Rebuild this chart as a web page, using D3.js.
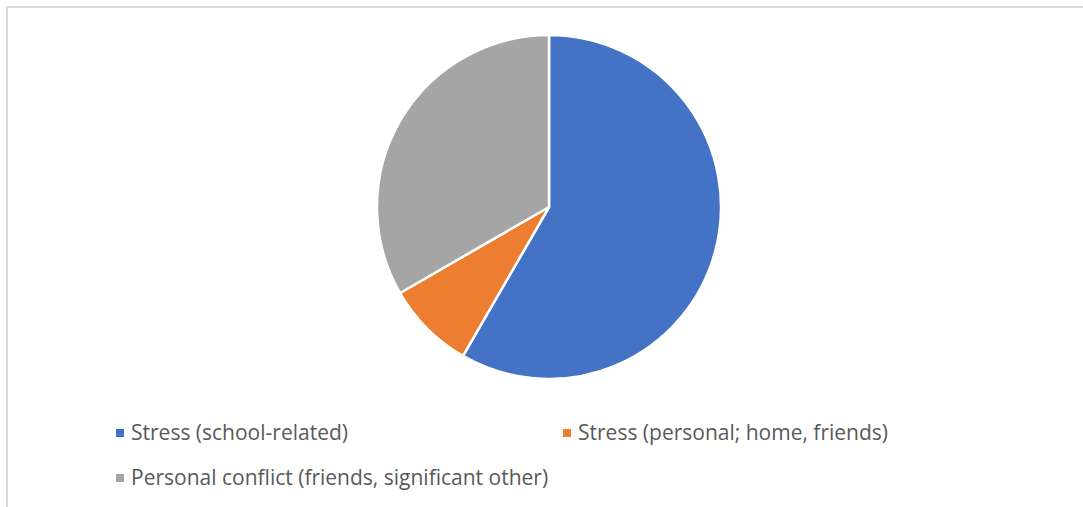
<!DOCTYPE html>
<html>
<head>
<meta charset="utf-8">
<script src="https://cdn.jsdelivr.net/npm/d3@7"></script>
<style>
  body { margin: 0; background: #fff; }
  text { font-family: "Open Sans", "Noto Sans", sans-serif; }
</style>
</head>
<body>
<script>
  // chart data
  var categories = ["Stress (school-related)", "Stress (personal; home, friends)", "Personal conflict (friends, significant other)"];
  var counts = [7, 1, 4];
  var colors = ["#4472c4", "#ed7d31", "#a5a5a5"];

  var W = 1083, H = 507;
  var svg = d3.select("body").append("svg")
    .attr("width", W)
    .attr("height", H);

  // chart area border (runs off right and bottom)
  svg.append("rect")
    .attr("x", 7).attr("y", 7)
    .attr("width", W + 20).attr("height", H + 20)
    .attr("fill", "none")
    .attr("stroke", "#d9d9d9")
    .attr("stroke-width", 2);

  var data = categories.map(function(c, i){ return {name: c, value: counts[i], color: colors[i]}; });

  var pie = d3.pie().sort(null).value(function(d){ return d.value; });
  var arc = d3.arc().innerRadius(0).outerRadius(172);

  var g = svg.append("g").attr("transform", "translate(549,207)");
  g.selectAll("path").data(pie(data)).enter()
    .append("path")
    .attr("d", arc)
    .attr("fill", function(d){ return d.data.color; })
    .attr("stroke", "#fff")
    .attr("stroke-width", 2.5)
    .attr("stroke-linejoin", "round");

  // legend
  var legPos = [[116, 433], [563, 433], [116, 478]];
  var leg = svg.selectAll("g.leg").data(data).enter()
    .append("g").attr("class", "leg")
    .attr("transform", function(d, i){ return "translate(" + legPos[i][0] + "," + legPos[i][1] + ")"; });
  leg.append("rect")
    .attr("x", 0).attr("y", -4)
    .attr("width", 8).attr("height", 8)
    .attr("fill", function(d){ return d.color; });
  leg.append("text")
    .attr("x", 15).attr("y", 0)
    .attr("dy", "0.35em")
    .attr("font-size", 21)
    .attr("fill", "#595959")
    .text(function(d){ return d.name; });
</script>
</body>
</html>
